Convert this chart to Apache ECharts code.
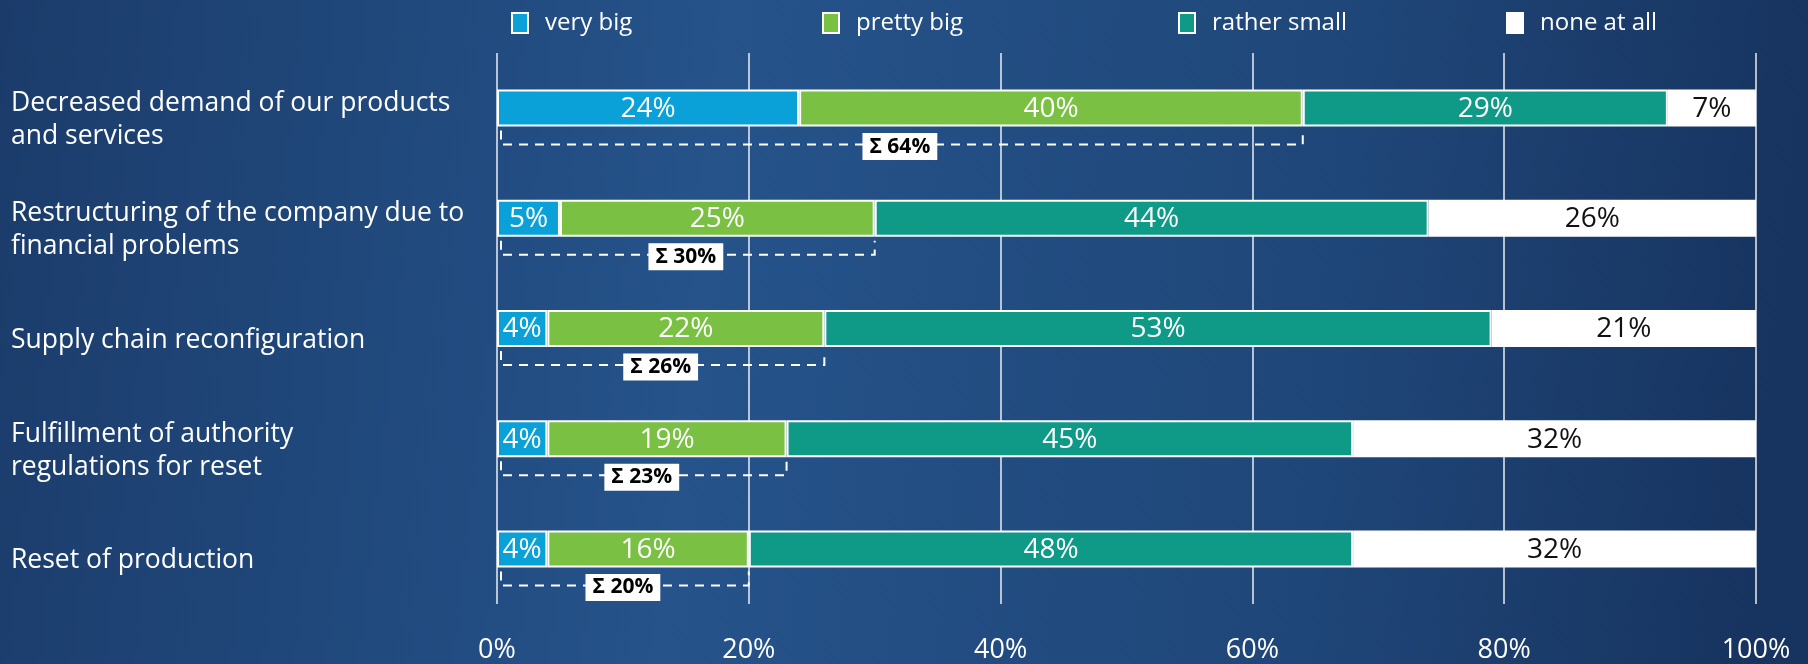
<!DOCTYPE html>
<html>
<head>
<meta charset="utf-8">
<script src="https://cdn.jsdelivr.net/npm/echarts@6/dist/echarts.min.js"></script>
<style>
  html, body { margin: 0; padding: 0; }
  #chart { width: 1808px; height: 664px; }
</style>
</head>
<body>
<div id="chart"></div>
<script>
// categories, top to bottom
const categories = [
    'Decreased demand of our products\nand services',
    'Restructuring of the company due to\nfinancial problems',
    'Supply chain reconfiguration',
    'Fulfillment of authority\nregulations for reset',
    'Reset of production'
];
const seriesNames = ['very big', 'pretty big', 'rather small', 'none at all'];
const veryBig = [24, 5, 4, 4, 4];
const prettyBig = [40, 25, 22, 19, 16];
const ratherSmall = [29, 44, 53, 45, 48];
const noneAtAll = [7, 26, 21, 32, 32];
const xTicks = [0, 20, 40, 60, 80, 100];

const colors = ['#0aa1d9', '#79c043', '#0f9a88', '#ffffff'];
const labelColors = ['#ffffff', '#ffffff', '#ffffff', '#111111'];
const fontFamily = '"Open Sans", "Noto Sans", sans-serif';

// sum of "very big" + "pretty big" for the brackets
const sums = veryBig.map((v, i) => [v + prettyBig[i], i]);

const chart = echarts.init(document.getElementById('chart'));

function barSeries(name, data, idx) {
    return {
        name: name,
        type: 'bar',
        stack: 'total',
        data: data,
        barWidth: 37,
        itemStyle: { color: colors[idx], borderColor: '#ffffff', borderWidth: 2 },
        label: {
            show: true,
            position: 'inside',
            offset: [0, 1],
            formatter: '{c}%',
            color: labelColors[idx],
            fontSize: 28,
            fontFamily: fontFamily
        }
    };
}

const legendLefts = [506, 817, 1173, 1501];
const legends = seriesNames.map((n, i) => ({
    data: [n],
    left: legendLefts[i],
    top: 6,
    icon: 'rect',
    itemWidth: 16,
    itemHeight: 20,
    itemStyle: { borderColor: '#ffffff', borderWidth: 2 },
    textStyle: { color: '#ffffff', fontSize: 24, fontFamily: fontFamily, padding: [0, 0, 0, 12] }
}));

const option = {
    backgroundColor: {
        type: 'linear', x: 0, y: 0, x2: 1, y2: 0.3,
        colorStops: [
            { offset: 0, color: '#1b3c6b' },
            { offset: 0.4, color: '#25538a' },
            { offset: 0.75, color: '#1f4678' },
            { offset: 1, color: '#17335f' }
        ]
    },
    animation: false,
    legend: legends,
    grid: { left: 497, right: 52, top: 53, bottom: 55, containLabel: false },
    xAxis: {
        type: 'value',
        min: 0,
        max: 100,
        interval: 20,
        axisLine: { show: false },
        axisTick: { show: false },
        splitLine: { show: true, lineStyle: { color: 'rgba(255,255,255,0.9)', width: 1.5 } },
        axisLabel: {
            color: '#ffffff',
            fontSize: 27,
            fontFamily: fontFamily,
            margin: 33,
            formatter: v => xTicks.includes(v) ? v + '%' : ''
        }
    },
    yAxis: {
        type: 'category',
        data: categories,
        inverse: true,
        axisLine: { show: false },
        axisTick: { show: false },
        axisLabel: {
            align: 'left',
            margin: 486,
            color: '#ffffff',
            fontSize: 26.5,
            lineHeight: 33,
            fontFamily: fontFamily,
            // empty spacer line pushes the text a little below the bar centre
            formatter: v => '{pad|}\n' + v,
            rich: { pad: { height: 24, lineHeight: 24 } }
        }
    },
    series: [
        barSeries(seriesNames[0], veryBig, 0),
        barSeries(seriesNames[1], prettyBig, 1),
        barSeries(seriesNames[2], ratherSmall, 2),
        barSeries(seriesNames[3], noneAtAll, 3),
        {
            type: 'custom',
            name: 'sum',
            data: sums,
            encode: { x: 0, y: 1 },
            z: 5,
            renderItem: function (params, api) {
                const idx = api.value(1);
                const start = api.coord([0, idx]);
                const end = api.coord([api.value(0), idx]);
                const yb = start[1] + 18.5;
                const lineY = yb + 18;
                const x0 = start[0] + 4;
                const x1 = end[0];
                return {
                    type: 'group',
                    children: [
                        {
                            type: 'polyline',
                            shape: { points: [[x0, yb + 4], [x0, lineY], [x1, lineY], [x1, yb + 4]] },
                            style: { stroke: '#ffffff', lineWidth: 2, lineDash: [9, 7], fill: null }
                        },
                        {
                            type: 'text',
                            x: (start[0] + x1) / 2,
                            y: lineY + 2,
                            style: {
                                text: 'Σ ' + api.value(0) + '%',
                                fill: '#000000',
                                font: 'bold 21px ' + fontFamily,
                                align: 'center',
                                verticalAlign: 'middle',
                                backgroundColor: '#ffffff',
                                padding: [4, 7, 2, 7]
                            }
                        }
                    ]
                };
            }
        }
    ]
};

chart.setOption(option);
</script>
</body>
</html>
